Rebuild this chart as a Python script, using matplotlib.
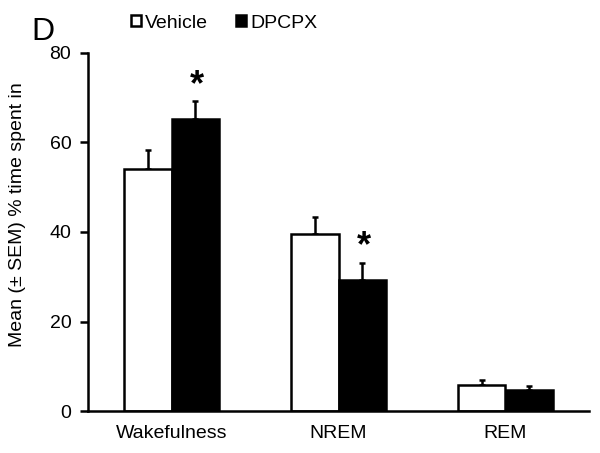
import matplotlib
matplotlib.use("Agg")
import matplotlib.pyplot as plt
import numpy as np
from matplotlib.patches import Patch

categories = ["Wakefulness", "NREM", "REM"]
vehicle = [54.1, 39.6, 5.8]
vehicle_sem = [4.2, 3.8, 1.1]
dpcpx = [65.2, 29.3, 4.7]
dpcpx_sem = [4.1, 3.8, 0.9]
sig_dpcpx = [True, True, False]
yticks = [0, 20, 40, 60, 80]

plt.rcParams['font.family'] = ['Liberation Sans', 'DejaVu Sans']

fig = plt.figure(figsize=(6, 4.53), dpi=100)
ax = fig.add_axes([88/600, 1-411/453, 501/600, 358/453])

x = np.arange(len(categories))
w = 0.285
lw = 1.8
ax.bar(x - w/2, vehicle, w, color='white', edgecolor='black', linewidth=lw, zorder=2)
ax.bar(x + w/2, dpcpx, w, color='black', edgecolor='black', linewidth=lw, zorder=2)
ax.errorbar(x - w/2, vehicle, yerr=[np.zeros(3), vehicle_sem], fmt='none', ecolor='black',
            elinewidth=1.8, capsize=2, capthick=1.8, zorder=1)
ax.errorbar(x + w/2, dpcpx, yerr=[np.zeros(3), dpcpx_sem], fmt='none', ecolor='black',
            elinewidth=1.8, capsize=2, capthick=1.8, zorder=1)
for i, s in enumerate(sig_dpcpx):
    if s:
        ax.text(x[i] + w/2 + 0.01, dpcpx[i] + dpcpx_sem[i] - 0.4, "*", ha='center', va='bottom',
                fontsize=26, fontweight='bold')

ax.set_xlim(-0.5, 2.5)
ax.set_ylim(0, 80)
ax.set_yticks(yticks)
ax.set_xticks(x)
ax.set_xticklabels(categories, fontsize=14)
ax.tick_params(axis='y', labelsize=14, width=1.8, length=6, direction='out', pad=6)
ax.tick_params(axis='x', length=0, pad=10)
for s in ['top', 'right']:
    ax.spines[s].set_visible(False)
for s in ['left', 'bottom']:
    ax.spines[s].set_linewidth(1.8)
fig.text(18/600, 1-215/453, "Mean (± SEM) % time spent in", fontsize=14, rotation=90,
         ha='center', va='center')

handles = [Patch(facecolor='white', edgecolor='black', linewidth=1.8),
           Patch(facecolor='black', edgecolor='black', linewidth=1.8)]
fig.legend(handles, ["Vehicle", "DPCPX"], loc='center', bbox_to_anchor=(224/600, 1-23/453),
           ncol=2, frameon=False, fontsize=14, handlelength=0.55, handleheight=0.55,
           handletextpad=0.2, columnspacing=1.4)
fig.text(31/600, 1-32/453, "D", fontsize=23, va='center', ha='left')

fig.savefig("out.png", dpi=100)
